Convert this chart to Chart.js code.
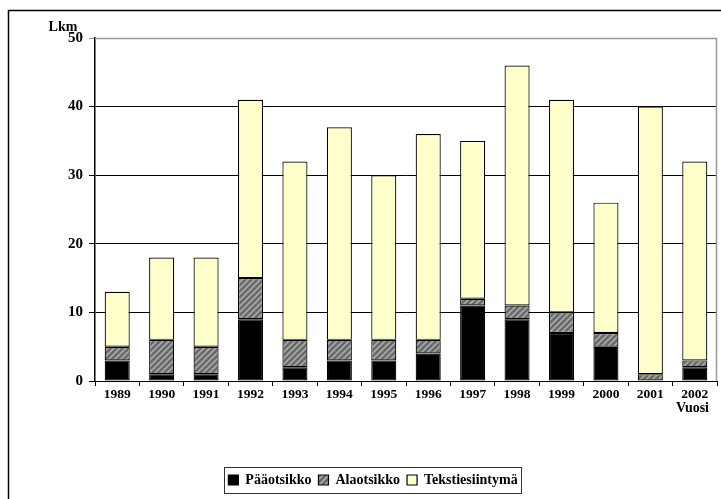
<!DOCTYPE html>
<html><head><meta charset="utf-8">
<script src="https://cdn.jsdelivr.net/npm/chart.js@4.4.0/dist/chart.umd.min.js"></script>
<style>html,body{margin:0;padding:0;background:#fff;}canvas{display:block;}</style>
</head><body>
<canvas id="c" width="721" height="499"></canvas>
<script>
const years = ['1989','1990','1991','1992','1993','1994','1995','1996','1997','1998','1999','2000','2001','2002'];
const paaotsikko = [3,1,1,9,2,3,3,4,11,9,7,5,0,2];
const alaotsikko = [2,5,4,6,4,3,3,2,1,2,3,2,1,1];
const tekstiesiintyma = [8,12,13,26,26,31,24,30,23,35,31,19,39,29];
const seriesNames = ['Pääotsikko','Alaotsikko','Tekstiesiintymä'];
const yMin = 0, yMax = 50, yStep = 10;
const yTitle = 'Lkm', xTitle = 'Vuosi';

function hatch(){
  const p = document.createElement('canvas'); p.width = 6; p.height = 6;
  const g = p.getContext('2d');
  g.fillStyle = '#6a6a6a'; g.fillRect(0,0,6,6);
  g.strokeStyle = '#a9a9a9'; g.lineWidth = 1.6;
  g.beginPath();
  g.moveTo(-1,7); g.lineTo(7,-1);
  g.moveTo(-4,4); g.lineTo(4,-4);
  g.moveTo(2,10); g.lineTo(10,2);
  g.stroke();
  return document.getElementById('c').getContext('2d').createPattern(p,'repeat');
}

const serif = "'Liberation Serif','Times New Roman',serif";

const framePlugin = {
  id:'frame',
  beforeDraw(chart){
    const ctx = chart.ctx;
    ctx.save();
    ctx.fillStyle = '#fff'; ctx.fillRect(0,0,chart.width,chart.height);
    ctx.strokeStyle = '#000'; ctx.lineWidth = 1.5;
    ctx.strokeRect(8.5,10.5,chart.width+20,chart.height+20);
    ctx.restore();
  },
  afterDraw(chart){
    const ctx = chart.ctx, a = chart.chartArea;
    ctx.save();
    ctx.strokeStyle = '#999'; ctx.lineWidth = 1.5;
    ctx.beginPath();
    ctx.moveTo(a.left, a.top+0.5); ctx.lineTo(a.right-0.5, a.top+0.5); ctx.lineTo(a.right-0.5, a.bottom);
    ctx.stroke();
    ctx.fillStyle = '#000';
    ctx.font = "bold 14px " + serif;
    ctx.textAlign = 'center'; ctx.textBaseline = 'alphabetic';
    ctx.fillText(yTitle, 63, 31);
    ctx.textAlign = 'right'; ctx.textBaseline = 'middle';
    ctx.fillText(xTitle, a.right - 8, a.bottom + 27);
    const L = chart.legend;
    if (L && L.legendHitBoxes && L.legendHitBoxes.length) {
      const hb = L.legendHitBoxes;
      let l = Infinity, r = -Infinity, t = Infinity, b = -Infinity;
      hb.forEach(h => { l = Math.min(l, h.left); r = Math.max(r, h.left + h.width); t = Math.min(t, h.top); b = Math.max(b, h.top + h.height); });
      const cy = (t + b) / 2;
      ctx.strokeStyle = '#333'; ctx.lineWidth = 1;
      ctx.strokeRect(Math.round(l - 4) + 0.5, Math.round(cy - 13) + 0.5, Math.round(r - l + 8), 26);
    }
    ctx.restore();
  }
};

new Chart(document.getElementById('c'), {
  type:'bar',
  data:{
    labels: years,
    datasets:[
      {label:seriesNames[0], data:paaotsikko, backgroundColor:'#000000'},
      {label:seriesNames[1], data:alaotsikko, backgroundColor:hatch()},
      {label:seriesNames[2], data:tekstiesiintyma, backgroundColor:'#ffffcc'}
    ].map(d=>Object.assign(d,{borderColor:'#000',borderWidth:1.2,borderSkipped:false,barPercentage:0.564,categoryPercentage:1}))
  },
  options:{
    responsive:false, animation:false,
    layout:{padding:{top:38,right:4,left:29,bottom:2}},
    plugins:{
      tooltip:{enabled:false},
      legend:{
        position:'bottom',
        labels:{boxWidth:10,boxHeight:10,padding:7,color:'#000',font:{family:serif,size:14,weight:'bold'}}
      }
    },
    scales:{
      x:{
        stacked:true,
        grid:{display:true,drawOnChartArea:false,offset:true,tickLength:5,color:'#000'},
        border:{color:'#000',width:1},
        ticks:{color:'#000',font:{family:serif,size:13.5,weight:'bold'},padding:0,maxRotation:0},
        afterFit(s){ s.height = 85; }
      },
      y:{
        stacked:true, min:yMin, max:yMax,
        grid:{color:(c)=> c.tick && c.tick.value===yMax ? '#999' : '#000', tickLength:6},
        border:{color:'#000',width:1.5},
        ticks:{stepSize:yStep,color:'#000',font:{family:serif,size:15,weight:'bold'},padding:6},
        afterFit(s){ s.width = 66; }
      }
    }
  },
  plugins:[framePlugin]
});
</script>
</body></html>
